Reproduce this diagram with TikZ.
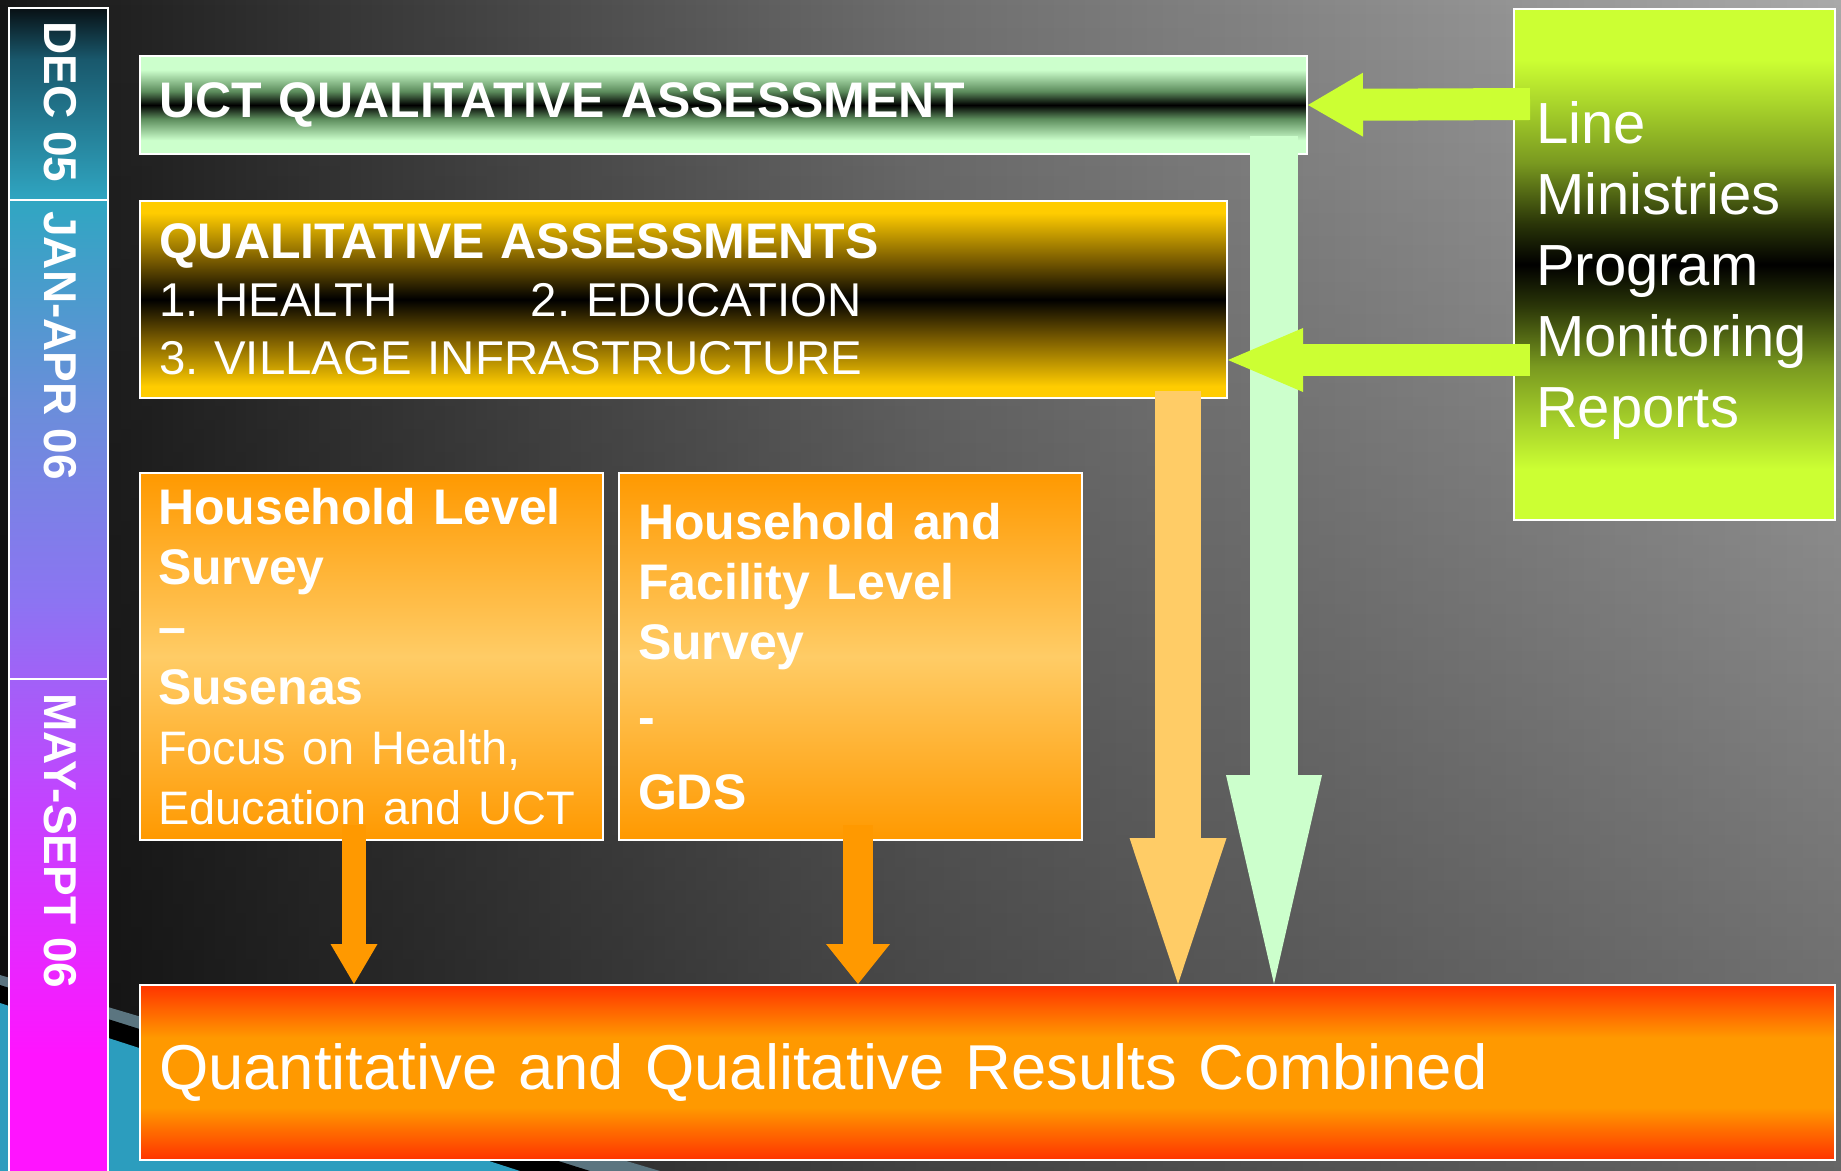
\documentclass[tikz,border=0pt]{standalone}
\usepackage{fontspec}
\setmainfont{Liberation Sans}
\usepackage{xcolor}
\usepackage{tikz}
\usetikzlibrary{arrows.meta, fadings}
\frenchspacing

\definecolor{mintlt}{HTML}{CCFFCC}
\definecolor{mintmd}{HTML}{5C8C5C}
\definecolor{gold}{HTML}{FFCC00}
\definecolor{golddk}{HTML}{7A5C00}
\definecolor{limegr}{HTML}{CCFF33}
\definecolor{limemd}{HTML}{7A9A20}
\definecolor{limedk}{HTML}{2A3508}
\definecolor{orng}{HTML}{FF9900}
\definecolor{orlt}{HTML}{FFCC66}
\definecolor{redor}{HTML}{FF3300}
\definecolor{bgdark}{HTML}{161616}
\definecolor{bgmid}{HTML}{6E6E6E}
\definecolor{bglight}{HTML}{A9A9A9}
\definecolor{tealsw}{HTML}{2C9DBE}
\definecolor{slatesw}{HTML}{5B7580}
\definecolor{tlA}{HTML}{081014}
\definecolor{tlB}{HTML}{19586C}
\definecolor{tlC}{HTML}{30A6C2}
\definecolor{tlD}{HTML}{6A8EDA}
\definecolor{tlE}{HTML}{8C74F2}
\definecolor{tlF}{HTML}{C244FF}
\definecolor{tlG}{HTML}{FF14FF}

\pgfdeclareverticalshading{stripshade}{100bp}{color(0bp)=(tlG); color(30bp)=(tlG); color(41bp)=(tlF); color(49.5bp)=(tlE); color(58bp)=(tlD); color(66.7bp)=(tlC); color(72.8bp)=(tlB); color(75bp)=(tlA); color(100bp)=(tlA)}
\pgfdeclareverticalshading{uctshade}{100bp}{color(0bp)=(mintlt); color(32bp)=(mintlt); color(43bp)=(mintmd); color(50bp)=(black); color(57bp)=(mintmd); color(68bp)=(mintlt); color(100bp)=(mintlt)}
\pgfdeclareverticalshading{qashade}{100bp}{color(0bp)=(gold); color(28bp)=(gold); color(40bp)=(golddk); color(50bp)=(black); color(60bp)=(golddk); color(72bp)=(gold); color(100bp)=(gold)}
\pgfdeclareverticalshading{lmshade}{100bp}{color(0bp)=(limegr); color(30bp)=(limegr); color(40bp)=(limemd); color(46bp)=(limedk); color(50bp)=(black); color(54bp)=(limedk); color(60bp)=(limemd); color(70bp)=(limegr); color(100bp)=(limegr)}
\pgfdeclareverticalshading{orshade}{100bp}{color(0bp)=(orng); color(25bp)=(orng); color(50bp)=(orlt); color(75bp)=(orng); color(100bp)=(orng)}
\pgfdeclareverticalshading{resshade}{100bp}{color(0bp)=(redor); color(25bp)=(redor); color(40bp)=(orng); color(60bp)=(orng); color(75bp)=(redor); color(100bp)=(redor)}

\begin{document}
\begin{tikzpicture}[x=0.5pt, y=-0.5pt,
		panel/.style={draw=white, line width=1pt, anchor=north west, inner xsep=9.5pt, inner ysep=0pt, align=left, text=white, shade},
		datelbl/.style={rotate=-90, anchor=west, inner sep=0pt, text=white, font=\bfseries\fontsize{23pt}{23pt}\selectfont},
		limearrow/.style={draw=limegr, line width=16pt, -{Triangle[length=#1 0 0, width=32pt 0 0, line width=0pt 0 0]}},
		mintarrow/.style={draw=mintlt, line width=24pt, -{Triangle[length=104.5pt 0 0, width=48pt 0 0, line width=0pt 0 0]}},
		goldarrow/.style={draw=orlt, line width=23pt, -{Triangle[length=73pt 0 0, width=48.5pt 0 0, line width=0pt 0 0]}},
		feedarrow/.style={draw=orng, -{Triangle[length=20pt 0 0, width=#1 0 0, line width=0pt 0 0]}}]
	\useasboundingbox (0,0) rectangle (1841,1171);
	% background
	\fill[left color=bgdark, right color=bglight, middle color=bgmid] (0,0) rectangle (1841,1171);
	\fill[black, opacity=.4, path fading=north] (0,0) rectangle (1841,1171);
	\fill[slatesw] (0,975) -- (660,1171) -- (0,1171) -- cycle;
	\fill[black] (0,985) -- (590,1171) -- (0,1171) -- cycle;
	\fill[tealsw] (0,1003) -- (520,1171) -- (0,1171) -- cycle;
	
	% time line
	\shade[shading=stripshade] (9,8) rectangle (108,1171);
	\draw[white, line width=1pt] (9,1175) -- (9,8) -- (108,8) -- (108,1175);
	\draw[white, line width=1pt] (9,200) -- (108,200);
	\draw[white, line width=1pt] (9,679) -- (108,679);
	\node[datelbl] (dec) at (60,21) {DEC 05};
	\node[datelbl] (janapr) at (60,211) {JAN-APR 06};
	\node[datelbl] (maysept) at (60,693) {MAY-SEPT 06};
	
	% boxes
	\node[panel, shading=uctshade, minimum width=583.5pt, minimum height=49pt, text width=564.5pt,
		font=\bfseries\fontsize{25pt}{30pt}\selectfont] (uct) at (139,55) {UCT QUALITATIVE ASSESSMENT};
	\node[panel, shading=qashade, minimum width=543.5pt, minimum height=98.5pt, text width=524.5pt,
		font=\fontsize{23.7pt}{29pt}\selectfont] (qa) at (139,200)
		{{\bfseries\fontsize{25pt}{29pt}\selectfont QUALITATIVE ASSESSMENTS}\\
		\makebox[186pt][l]{1. HEALTH}2. EDUCATION\\
		3. VILLAGE INFRASTRUCTURE};
	\node[panel, shading=orshade, minimum width=231.5pt, minimum height=183.5pt, text width=213.5pt, inner xsep=9pt,
		font=\bfseries\fontsize{25pt}{30pt}\selectfont] (hls) at (139,472)
		{Household Level\\ Survey\\ –\\ Susenas\\
		{\mdseries\fontsize{23.5pt}{30pt}\selectfont Focus on Health,}\\
		{\mdseries\fontsize{23.5pt}{30pt}\selectfont Education and UCT}};
	\node[panel, shading=orshade, minimum width=231.5pt, minimum height=183.5pt, text width=212.5pt,
		font=\bfseries\fontsize{25pt}{30pt}\selectfont] (hfls) at (618,472)
		{Household and\\ Facility Level\\ Survey\\[7.5pt] -\\[7.5pt] GDS};
	\node[panel, shading=resshade, minimum width=847.5pt, minimum height=87.5pt, text width=828.5pt,
		font=\fontsize{31.7pt}{38pt}\selectfont] (res) at (139,984) {Quantitative and Qualitative Results Combined};
	\node[panel, shading=lmshade, minimum width=160.5pt, minimum height=255.5pt, inner xsep=11pt, text width=138.5pt,
		font=\fontsize{29pt}{35.4pt}\selectfont] (lm) at (1513,8)
		{\rule{0pt}{27pt}Line\\ Ministries\\ Program\\ Monitoring\\ Reports};
	
	% arrows
	\coordinate (mtop) at (1274,136);
	\coordinate (otop) at (1178,391);
	\coordinate (hlsport) at (354,825);
	\coordinate (hflsport) at (858,825);
	\coordinate (lmport1) at (1530,104);
	\coordinate (lmport2) at (1530,360);
	\draw[mintarrow] (mtop) -- (mtop |- res.north);
	\draw[goldarrow] (otop) -- (otop |- res.north);
	\draw[feedarrow=23.5pt, line width=11.75pt] (hlsport) -- (hlsport |- res.north);
	\draw[feedarrow=32pt, line width=15pt] (hflsport) -- (hflsport |- res.north);
	\draw[limearrow=27.5pt] (lmport1) -- (uct.east);
	\draw[limearrow=37.5pt] (lmport2) -- (lmport2 -| qa.east);
\end{tikzpicture}
\end{document}
